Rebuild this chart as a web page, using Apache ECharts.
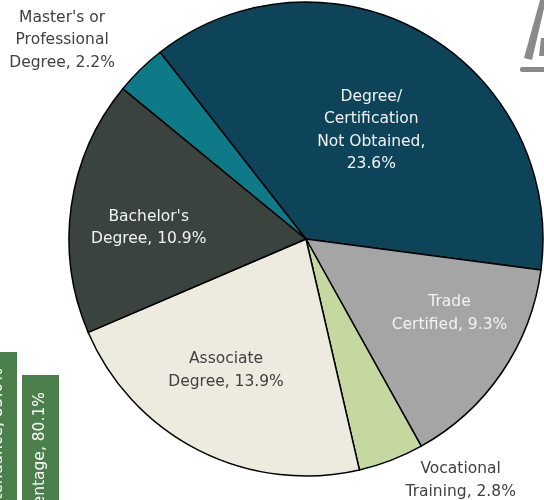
<!DOCTYPE html>
<html>
<head>
<meta charset="utf-8">
<script src="https://cdn.jsdelivr.net/npm/echarts@6/dist/echarts.min.js"></script>
<style>html,body{margin:0;padding:0;background:#fff}#c{width:544px;height:500px}</style>
</head>
<body>
<div id="c"></div>
<script>
var categories = [
  "Degree/\nCertification\nNot Obtained",
  "Trade\nCertified",
  "Vocational\nTraining",
  "Associate\nDegree",
  "Bachelor's\nDegree",
  "Master's or\nProfessional\nDegree"
];
var values = [23.6, 9.3, 2.8, 13.9, 10.9, 2.2];
var valueSeparators = [",\n", ", ", ", ", ", ", ", ", ", "];
var colors = ["#0d4459", "#a5a5a5", "#c4d89f", "#edebe0", "#3a433e", "#0e7987"];
var labelColors = ["#f2f2f2", "#f2f2f2", "#404040", "#404040", "#f2f2f2", "#404040"];
var labelShift = [[5, -3], [43, 6], [111, 128], [-25, 23], [-37, 6], [-159, -112]];
var sideLabels = ["Attendance, 83.0%", "Percentage, 80.1%"];

var FONT = "DejaVu Sans";
var chart = echarts.init(document.getElementById('c'), null, {renderer: 'canvas'});
var data = categories.map(function (c, i) {
  return {
    name: c, value: values[i],
    itemStyle: {color: colors[i]},
    label: {color: labelColors[i]}
  };
});
chart.setOption({
  animation: false,
  series: [{
    type: 'pie',
    center: [306, 239],
    radius: [0, 237],
    startAngle: 128,
    clockwise: true,
    avoidLabelOverlap: false,
    data: data,
    itemStyle: {borderColor: '#000', borderWidth: 1.5},
    label: {
      show: true, position: 'inside',
      fontFamily: FONT, fontSize: 15.5, lineHeight: 22.5, align: 'center',
      formatter: function (p) { return p.name + valueSeparators[p.dataIndex] + p.value.toFixed(1) + '%'; }
    },
    labelLine: {show: false},
    labelLayout: function (p) {
      var s = labelShift[p.dataIndex];
      return {dx: s[0], dy: s[1]};
    },
    emphasis: {disabled: true}
  }],
  graphic: [
    {type: 'rect', shape: {x: -20, y: 352, width: 37, height: 160}, style: {fill: '#4b7f4b'}},
    {type: 'rect', shape: {x: 22, y: 375, width: 37, height: 140}, style: {fill: '#4b7f4b'}},
    {type: 'text', x: -2, y: 368, rotation: Math.PI / 2,
      style: {text: sideLabels[0], fill: '#fff', font: '15.5px ' + FONT, align: 'right', verticalAlign: 'middle'}},
    {type: 'text', x: 40, y: 392, rotation: Math.PI / 2,
      style: {text: sideLabels[1], fill: '#fff', font: '15.5px ' + FONT, align: 'right', verticalAlign: 'middle'}},
    {type: 'polygon', shape: {points: [[540, 0], [546, 0], [532, 60], [524, 58]]}, style: {fill: '#8a8a8a'}},
    {type: 'polygon', shape: {points: [[541, 38], [546, 38], [546, 56], [539, 56]]}, style: {fill: '#8a8a8a'}},
    {type: 'rect', shape: {x: 520, y: 67, width: 26, height: 5, r: 2}, style: {fill: '#8a8a8a'}}
  ]
});
</script>
</body>
</html>
